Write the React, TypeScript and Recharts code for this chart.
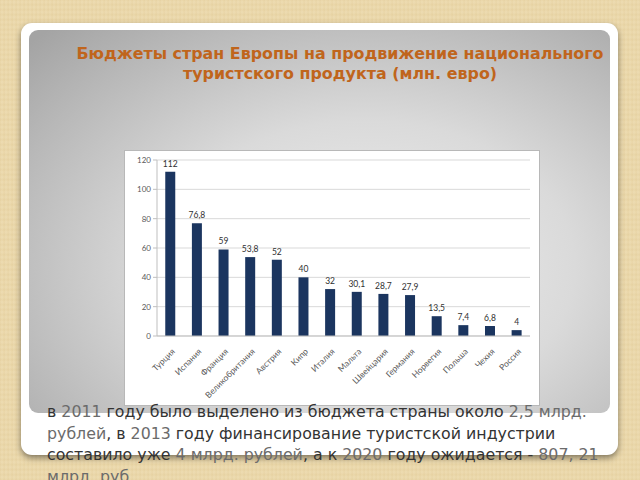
import React from "react";
import { BarChart, Bar, XAxis, YAxis, CartesianGrid, LabelList } from "recharts";

const countries = [
  "Турция", "Испания", "Франция", "Великобритания", "Австрия", "Кипр", "Италия",
  "Мальта", "Швейцария", "Германия", "Норвегия", "Польша", "Чехия", "Россия",
];
const budgets = [112, 76.8, 59, 53.8, 52, 40, 32, 30.1, 28.7, 27.9, 13.5, 7.4, 6.8, 4];
const yTicks = [0, 20, 40, 60, 80, 100, 120];

const titleLines = [
  "Бюджеты стран Европы на продвижение национального",
  "туристского продукта (млн. евро)",
];

const data = countries.map((c, i) => ({ country: c, value: budgets[i] }));

const fmt = (v: any) => String(v).replace(".", ",");

const XTick = (props: any) => {
  const { x, y, payload } = props;
  return (
    <g transform={`translate(${x + 3},${y + 6})`}>
      <text
        transform="rotate(-45)"
        textAnchor="end"
        fontSize={8.5}
        fill="#595959"
        fontFamily="Lato, 'Open Sans', sans-serif"
        dy={3}
      >
        {payload.value}
      </text>
    </g>
  );
};

const num = { color: "#6b6b6b" };

export default function App() {
  return (
    <div
      style={{
        position: "fixed",
        left: 0,
        top: 0,
        width: 640,
        height: 480,
        overflow: "hidden",
        background:
          "repeating-linear-gradient(90deg, rgba(200,170,110,0.10) 0px, rgba(255,255,255,0.06) 2px, rgba(200,170,110,0.08) 4px), repeating-linear-gradient(0deg, rgba(200,170,110,0.10) 0px, rgba(255,255,255,0.05) 3px, rgba(200,170,110,0.08) 5px), #ecd9ab",
        fontFamily: "'DejaVu Sans', Verdana, sans-serif",
      }}
    >
      {/* white card */}
      <div
        style={{
          position: "absolute",
          left: 21,
          top: 23,
          width: 597,
          height: 432,
          background: "#ffffff",
          borderRadius: 11,
          boxShadow: "0 3px 6px rgba(0,0,0,0.45)",
        }}
      />
      {/* gray panel */}
      <div
        style={{
          position: "absolute",
          left: 29,
          top: 30,
          width: 581,
          height: 383,
          borderRadius: 9,
          background:
            "radial-gradient(ellipse 80% 85% at 58% 62%, #f0f0f0 0%, #dadada 45%, #b8b8b8 80%, #a4a4a4 100%)",
        }}
      />
      {/* title */}
      <div
        style={{
          position: "absolute",
          left: 40,
          top: 44,
          width: 600,
          textAlign: "center",
          color: "#c0651c",
          fontWeight: "bold",
          fontSize: 15.9,
          lineHeight: "20px",
        }}
      >
        {titleLines.map((l, i) => (
          <div key={i} style={{ whiteSpace: "nowrap" }}>{l}</div>
        ))}
      </div>
      {/* chart box */}
      <div
        style={{
          position: "absolute",
          left: 124,
          top: 150,
          width: 416,
          height: 256,
          background: "#ffffff",
          border: "1px solid #b8b8b8",
          boxSizing: "border-box",
        }}
      >
        <BarChart
          width={414}
          height={254}
          data={data}
          margin={{ top: 9, right: 9, left: 0, bottom: 0 }}
          barCategoryGap="31%"
        >
          <CartesianGrid vertical={false} stroke="#d9d9d9" />
          <XAxis
            dataKey="country"
            interval={0}
            tick={<XTick />}
            tickLine={false}
            axisLine={{ stroke: "#bfbfbf" }}
            height={69}
          />
          <YAxis
            domain={[0, 120]}
            ticks={yTicks}
            width={32}
            tickSize={4}
            tickLine={{ stroke: "#bfbfbf" }}
            axisLine={{ stroke: "#bfbfbf" }}
            tick={{ fontSize: 8, fill: "#595959", fontFamily: "Lato, 'Open Sans', sans-serif" }}
          />
          <Bar dataKey="value" fill="#1b355f" isAnimationActive={false}>
            <LabelList
              dataKey="value"
              position="top"
              offset={5}
              formatter={fmt}
              style={{ fontSize: 8.5, fill: "#303030", fontFamily: "Lato, 'Open Sans', sans-serif" }}
            />
          </Bar>
        </BarChart>
      </div>
      {/* bottom text */}
      <div
        style={{
          position: "absolute",
          left: 47,
          top: 401,
          color: "#333333",
          fontSize: 15.8,
          lineHeight: "21.5px",
          whiteSpace: "nowrap",
        }}
      >
        <div>в <span style={num}>2011</span> году было выделено из бюджета страны около <span style={num}>2,5 млрд.</span></div>
        <div><span style={num}>рублей</span>, в <span style={num}>2013</span> году финансирование туристской индустрии</div>
        <div>составило уже <span style={num}>4 млрд. рублей</span>, а к <span style={num}>2020</span> году ожидается -  <span style={num}>807, 21</span></div>
        <div><span style={num}>млрд. руб.</span></div>
      </div>
    </div>
  );
}
